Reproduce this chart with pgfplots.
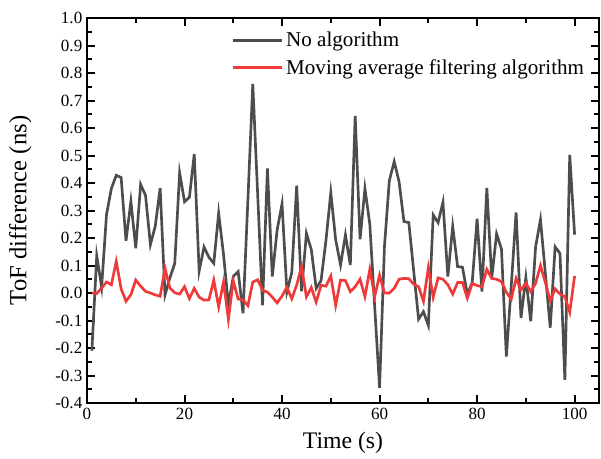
\documentclass[border=0pt]{standalone}
\usepackage{fontspec}
\setmainfont{Liberation Serif}
\usepackage{pgfplots}
\pgfplotsset{compat=1.18}
\definecolor{blackline}{RGB}{77,77,77}
\definecolor{redline}{RGB}{240,58,58}
\begin{document}
\begin{tikzpicture}
\begin{axis}[
  width=384pt, height=288.75pt, scale only axis,
  xmin=0, xmax=105, ymin=-0.4, ymax=1.0,
  xtick={0,20,40,60,80,100}, minor x tick num=1,
  ytick={-0.4,-0.3,-0.2,-0.1,0,0.1,0.2,0.3,0.4,0.5,0.6,0.7,0.8,0.9,1.0},
  minor y tick num=1,
  tick align=inside, major tick length=6pt, minor tick length=3.5pt,
  axis line style={line width=1.7pt},
  every tick/.style={line width=1.5pt, black},
  /pgf/number format/assume math mode=true,
  yticklabel style={/pgf/number format/.cd, fixed, fixed zerofill, precision=1},
  xticklabel style={/pgf/number format/.cd, fixed, precision=0},
  tick label style={font=\fontsize{12.8}{14}\selectfont},
  xlabel={Time (s)}, ylabel={ToF difference (ns)},
  every axis x label/.style={at={(rel axis cs:0.5,0)}, anchor=center, yshift=-29.5pt,
    font=\fontsize{17.8}{20}\selectfont},
  every axis y label/.style={at={(rel axis cs:0,0.5)}, anchor=center, rotate=90, yshift=50pt,
    font=\fontsize{18.5}{21}\selectfont},
  legend style={draw=none, fill=none, at={(rel axis cs:0.274,0.978)}, anchor=north west,
    font=\fontsize{15.8}{18}\selectfont, row sep=4pt},
  legend cell align=left,
  legend image code/.code={\draw[#1] (0pt,0pt) -- (37pt,0pt);},
]
\addplot[blackline, line width=2pt] coordinates {
(1,-0.21) (2,0.135) (3,0.022) (4,0.285) (5,0.38) (6,0.428) (7,0.42) (8,0.19) (9,0.333) (10,0.163)
(11,0.395) (12,0.355) (13,0.176) (14,0.243) (15,0.382) (16,-0.007) (17,0.055) (18,0.108) (19,0.437) (20,0.332)
(21,0.348) (22,0.505) (23,0.08) (24,0.167) (25,0.13) (26,0.108) (27,0.29) (28,0.14) (29,-0.044) (30,0.06)
(31,0.078) (32,-0.074) (33,0.34) (34,0.76) (35,0.36) (36,-0.045) (37,0.453) (38,0.06) (39,0.23) (40,0.324)
(41,0.005) (42,0.075) (43,0.39) (44,0.006) (45,0.217) (46,0.158) (47,0.017) (48,0.045) (49,0.19) (50,0.365)
(51,0.193) (52,0.102) (53,0.211) (54,0.102) (55,0.644) (56,0.195) (57,0.38) (58,0.25) (59,-0.05) (60,-0.345)
(61,0.168) (62,0.408) (63,0.478) (64,0.405) (65,0.26) (66,0.256) (67,0.08) (68,-0.095) (69,-0.068) (70,-0.118)
(71,0.284) (72,0.256) (73,0.33) (74,0.06) (75,0.242) (76,0.096) (77,0.094) (78,-0.005) (79,0.038) (80,0.27)
(81,0.005) (82,0.382) (83,0.053) (84,0.215) (85,0.16) (86,-0.231) (87,0.025) (88,0.293) (89,-0.091) (90,0.057)
(91,-0.103) (92,0.168) (93,0.267) (94,0.071) (95,-0.126) (96,0.168) (97,0.144) (98,-0.316) (99,0.502) (100,0.212)
};
\addlegendentry{No algorithm}
\addplot[redline, line width=2pt] coordinates {
(1,0.0) (2,-0.002) (3,0.018) (4,0.04) (5,0.03) (6,0.115) (7,0.015) (8,-0.03) (9,-0.006) (10,0.047)
(11,0.025) (12,0.006) (13,0.0) (14,-0.007) (15,-0.012) (16,0.09) (17,0.018) (18,0.001) (19,-0.004) (20,0.023)
(21,-0.02) (22,0.017) (23,-0.015) (24,-0.026) (25,-0.025) (26,0.047) (27,-0.05) (28,0.04) (29,-0.096) (30,0.044)
(31,-0.022) (32,-0.025) (33,-0.046) (34,0.04) (35,0.048) (36,0.01) (37,0.003) (38,-0.015) (39,-0.036) (40,-0.011)
(41,0.021) (42,-0.021) (43,0.029) (44,0.096) (45,-0.014) (46,0.02) (47,-0.033) (48,0.028) (49,0.025) (50,0.062)
(51,-0.045) (52,0.047) (53,0.045) (54,0.005) (55,0.023) (56,0.05) (57,-0.013) (58,0.086) (59,-0.013) (60,0.065)
(61,0.0) (62,0.0) (63,0.017) (64,0.05) (65,0.053) (66,0.052) (67,0.032) (68,0.023) (69,-0.03) (70,0.092)
(71,-0.016) (72,0.055) (73,0.05) (74,0.03) (75,-0.004) (76,0.038) (77,0.038) (78,-0.019) (79,0.035) (80,0.027)
(81,0.023) (82,0.086) (83,0.053) (84,0.05) (85,0.041) (86,0.003) (87,-0.023) (88,0.053) (89,0.011) (90,0.036)
(91,0.005) (92,0.035) (93,0.1) (94,0.038) (95,-0.028) (96,0.015) (97,-0.004) (98,-0.013) (99,-0.07) (100,0.062)
};
\addlegendentry{Moving average filtering algorithm}
\end{axis}
\path (current axis.south west) ++(-65.25pt,-41.25pt);
\path (current axis.north east) ++(1.5pt,13.5pt);
\end{tikzpicture}
\end{document}
